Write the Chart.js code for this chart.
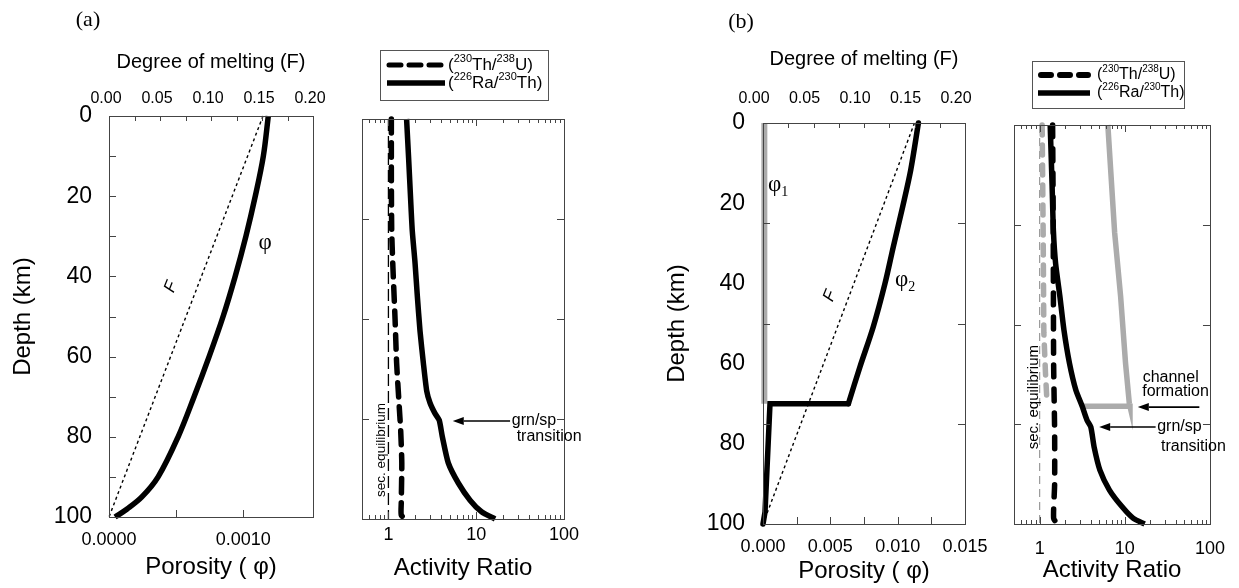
<!DOCTYPE html>
<html><head><meta charset="utf-8">
<script src="https://cdn.jsdelivr.net/npm/chart.js@4.4.1/dist/chart.umd.min.js"></script>
<style>
html,body{margin:0;padding:0;background:#fff;}
#wrap{position:relative;width:1239px;height:588px;overflow:hidden;background:#fff;}
#wrap canvas{position:absolute;left:0;top:0;width:1239px;height:588px;}
</style></head><body>
<div id="wrap">
<canvas id="cA1" width="1239" height="588"></canvas>
<canvas id="cA2" width="1239" height="588"></canvas>
<canvas id="cB1" width="1239" height="588"></canvas>
<canvas id="cB2" width="1239" height="588"></canvas>
</div>
<script>
// ---------------- DATA: panel (a) ----------------
const depthF_a = [0, 100];
const meltF_a = [0.151, 0];
const depthPhi_a = [0, 10, 20, 30, 40, 50, 60, 70, 80, 90, 95, 98, 100];
const phi_a = [0.001187, 0.00115, 0.00109, 0.00102, 0.00094, 0.00085, 0.000746, 0.000634, 0.000515, 0.000366, 0.000245, 0.000135, 0.000045];
const depthThU_a = [0, 15, 28, 36, 50, 61, 71, 78, 86, 96, 99, 100];
const thU_a = [1.08, 1.08, 1.09, 1.12, 1.19, 1.24, 1.32, 1.38, 1.42, 1.40, 1.40, 1.56];
const depthRaTh_a = [0, 10, 20, 28, 36, 44, 53, 61, 68, 71, 73.6, 75.3, 79.4, 86, 91, 95.3, 98.2, 100];
const raTh_a = [1.61, 1.70, 1.79, 1.87, 2.01, 2.13, 2.29, 2.50, 2.73, 2.98, 3.39, 3.79, 4.11, 4.81, 6.25, 8.5, 11.5, 16.4];
const depthSecEq = [0, 100];
const secEq = [1, 1];
// ---------------- DATA: panel (b) ----------------
const depthF_b = [0, 100];
const meltF_b = [0.150, 0];
const depthPhi1_b = [0, 70];
const phi1_b = [0.0001, 0.0001];
const depthPhi2curve_b = [0, 11.7, 20.9, 30.8, 40, 50.8, 60.8, 70];
const phi2curve_b = [0.01154, 0.01097, 0.01037, 0.00968, 0.00906, 0.00819, 0.0072, 0.00634];
const depthPhi2step_b = [70, 70, 97, 100];
const phi2step_b = [0.00634, 0.00052, 0.00015, 0];
const depthThU1_b = [0, 27, 52, 62, 68, 70];
const thU1_b = [1.07, 1.10, 1.12, 1.17, 1.21, 1.25];
const depthRaTh1_b = [0, 27, 43, 59.7, 69.8, 70.5, 70.5];
const raTh1_b = [6.32, 7.6, 8.93, 10.2, 11.3, 11.5, 3.16];
const depthThU2_b = [0, 20, 40, 60, 77, 90, 98.6, 100];
const thU2_b = [1.42, 1.44, 1.45, 1.46, 1.50, 1.50, 1.46, 1.62];
const depthRaTh2_b = [0, 15, 26.4, 34.7, 43, 51.4, 59.7, 66.4, 70.5, 74, 75.7, 80.7, 86.5, 91.5, 95.7, 98.6, 100];
const raTh2_b = [1.33, 1.40, 1.45, 1.54, 1.73, 1.93, 2.24, 2.66, 3.16, 3.6, 3.99, 4.36, 5.1, 6.6, 9.3, 12.6, 17.1];
// ---------------- TICK LABELS ----------------
const depthTicks = [0, 20, 40, 60, 80, 100];
const meltTicks = [0, 0.05, 0.10, 0.15, 0.20];
const porTicks_a = [0, 0.0010];
const porTicks_b = [0, 0.005, 0.010, 0.015];
const ratioTicks = [1, 10, 100];

// ---------------- helpers ----------------
const FONT = "'Liberation Sans', Arial, Helvetica, sans-serif";
const SERIF = "'Liberation Serif', 'Times New Roman', serif";
const FRAME = '#444';
const GRAY = '#ababab';
Chart.defaults.font.family = FONT;
Chart.defaults.color = '#000';

const pts = (xs, ys) => xs.map((x, i) => ({x: x, y: ys[i]}));
const setTicks = vals => s => { s.ticks = vals.map(v => ({value: v})); };
const logMinor = [];
[0.1, 1, 10].forEach(d => { for (let k = 1; k <= 9; k++) { const v = +(k * d).toFixed(3); if (v > 0.5 && v < 100) logMinor.push(v); } });
const fStep = []; for (let k = 1; k < 8; k++) fStep.push(+(k * 0.025).toFixed(3));

function drawRich(ctx, x, y, segs, o) {
  const size = o.size || 16, fam = o.family || FONT;
  const fontOf = s => (s.italic ? 'italic ' : '') + ((s.sup || s.sub) ? Math.round(size * 0.62) : size) + 'px ' + fam;
  let w = 0;
  segs.forEach(s => { ctx.font = fontOf(s); w += ctx.measureText(s.t).width; });
  ctx.save();
  ctx.translate(x, y);
  if (o.rotate) ctx.rotate(o.rotate * Math.PI / 180);
  let cx = o.align === 'center' ? -w / 2 : (o.align === 'right' ? -w : 0);
  ctx.textBaseline = 'middle'; ctx.textAlign = 'left'; ctx.fillStyle = o.color || '#000';
  segs.forEach(s => {
    ctx.font = fontOf(s);
    const dy = s.sup ? -size * 0.38 : (s.sub ? size * 0.32 : 0);
    ctx.fillText(s.t, cx, dy);
    cx += ctx.measureText(s.t).width;
  });
  ctx.restore();
}
function drawArrow(ctx, x1, y1, x2, y2) {
  const a = Math.atan2(y2 - y1, x2 - x1), L = 11, W = 4;
  const bx = x2 - L * Math.cos(a), by = y2 - L * Math.sin(a);
  ctx.strokeStyle = '#000'; ctx.fillStyle = '#000'; ctx.lineWidth = 1.6; ctx.setLineDash([]);
  ctx.beginPath(); ctx.moveTo(x1, y1); ctx.lineTo(bx, by); ctx.stroke();
  ctx.beginPath(); ctx.moveTo(x2, y2);
  ctx.lineTo(bx - W * Math.sin(a), by + W * Math.cos(a));
  ctx.lineTo(bx + W * Math.sin(a), by - W * Math.cos(a));
  ctx.closePath(); ctx.fill();
}
function makeExtras(cfg) {
  return {
    id: 'extras',
    afterDatasetsDraw(chart) {
      const ctx = chart.ctx, ca = chart.chartArea;
      const px = (sc, v) => chart.scales[sc].getPixelForValue(v);
      ctx.save();
      ctx.setLineDash([]);
      ctx.strokeStyle = FRAME; ctx.lineWidth = 1;
      (cfg.ticks || []).forEach(t => {
        const sc = chart.scales[t.scale];
        t.values.forEach(v => {
          const p = Math.round(sc.getPixelForValue(v)) + 0.5;
          const len = (t.major && t.major.indexOf(v) >= 0) ? t.majorLen : t.len;
          ctx.beginPath();
          if (t.side === 'left') { ctx.moveTo(ca.left, p); ctx.lineTo(ca.left + len, p); }
          else if (t.side === 'right') { ctx.moveTo(ca.right, p); ctx.lineTo(ca.right - len, p); }
          else if (t.side === 'top') { ctx.moveTo(p, ca.top); ctx.lineTo(p, ca.top + len); }
          else { ctx.moveTo(p, ca.bottom); ctx.lineTo(p, ca.bottom - len); }
          ctx.stroke();
        });
      });
      ctx.strokeRect(Math.round(ca.left) + 0.5, Math.round(ca.top) + 0.5, Math.round(ca.right - ca.left), Math.round(ca.bottom - ca.top));
      (cfg.arrows || []).forEach(a => {
        drawArrow(ctx, px(a.xs || 'x', a.x1), px(a.ys || 'y', a.y1), px(a.xs || 'x', a.x2), px(a.ys || 'y', a.y2));
      });
      (cfg.texts || []).forEach(t => {
        const X = t.px !== undefined ? t.px : px(t.xs || 'x', t.x);
        const Y = t.py !== undefined ? t.py : px(t.ys || 'y', t.y);
        drawRich(ctx, X, Y, t.segs, t);
      });
      if (cfg.legend) {
        const L = cfg.legend;
        ctx.strokeStyle = '#555'; ctx.lineWidth = 1; ctx.setLineDash([]);
        ctx.strokeRect(L.box[0] + 0.5, L.box[1] + 0.5, L.box[2], L.box[3]);
        L.items.forEach(it => {
          ctx.save();
          ctx.strokeStyle = '#000'; ctx.lineWidth = it.width; ctx.lineCap = it.dash ? 'round' : 'butt';
          ctx.setLineDash(it.dash || []);
          ctx.beginPath(); ctx.moveTo(it.x1, it.y); ctx.lineTo(it.x2, it.y); ctx.stroke();
          ctx.restore();
          drawRich(ctx, it.tx, it.y, it.segs, {size: L.size, align: 'left'});
        });
      }
      ctx.restore();
    }
  };
}
const thULabel = [{t: '('}, {t: '230', sup: true}, {t: 'Th/'}, {t: '238', sup: true}, {t: 'U)'}];
const raThLabel = [{t: '('}, {t: '226', sup: true}, {t: 'Ra/'}, {t: '230', sup: true}, {t: 'Th)'}];

const noGrid = {display: false, drawTicks: false};
const noBorder = {display: false};
const baseOpts = (padding, scales) => ({
  responsive: false, animation: false, devicePixelRatio: 1, events: [],
  layout: {padding: padding},
  plugins: {legend: {display: false}, tooltip: {enabled: false}},
  scales: scales
});
const line = (data, xAxisID, extra) => Object.assign({
  data: data, xAxisID: xAxisID, yAxisID: 'y', showLine: true, pointRadius: 0,
  borderColor: '#000', borderWidth: 5.5, fill: false, clip: 12, tension: 0
}, extra);

// ---------------- Chart (a) left: porosity / F ----------------
new Chart(document.getElementById('cA1'), {
  type: 'scatter',
  data: {datasets: [
    line(pts(phi_a, depthPhi_a), 'x', {label: 'phi', tension: 0.35, borderWidth: 5.5, order: 1}),
    line(pts(meltF_a, depthF_a), 'xF', {label: 'F', borderWidth: 1.4, borderDash: [3, 3], order: 2})
  ]},
  options: baseOpts({left: 0, top: 0, right: 926, bottom: 0}, {
    y: {type: 'linear', position: 'left', reverse: true, min: 0, max: 100, grid: noGrid, border: noBorder,
        ticks: {font: {size: 23}, padding: 17, autoSkip: false, callback: v => String(v)},
        afterBuildTicks: setTicks(depthTicks), afterFit: s => { s.width = 109; },
        title: {display: true, text: 'Depth (km)', font: {size: 24}, padding: {top: 9, bottom: 0}}},
    x: {type: 'linear', axis: 'x', position: 'bottom', min: 0, max: 0.00152, grid: noGrid, border: noBorder,
        ticks: {font: {size: 18}, padding: 12, autoSkip: false, maxRotation: 0, minRotation: 0, callback: v => Number(v).toFixed(4)},
        afterBuildTicks: setTicks(porTicks_a), afterFit: s => { s.height = 71; },
        title: {display: true, text: 'Porosity ( φ)', font: {size: 24}, padding: {top: 0, bottom: 6}}},
    xF: {type: 'linear', axis: 'x', position: 'top', min: 0, max: 0.2, grid: noGrid, border: noBorder,
        ticks: {font: {size: 16}, padding: 8, labelOffset: -3, autoSkip: false, maxRotation: 0, minRotation: 0, callback: v => Number(v).toFixed(2)},
        afterBuildTicks: setTicks(meltTicks), afterFit: s => { s.height = 116; },
        title: {display: true, text: 'Degree of melting (F)', font: {size: 20}, padding: {top: 50, bottom: 0}}}
  }),
  plugins: [makeExtras({
    ticks: [
      {scale: 'y', side: 'left', values: [10, 20, 30, 40, 50, 60, 70, 80, 90], len: 7},
      {scale: 'xF', side: 'top', values: fStep, len: 5},
      {scale: 'x', side: 'bottom', values: [0.0005, 0.001], len: 7}
    ],
    texts: [
      {px: 88, py: 20, segs: [{t: '(a)'}], size: 22, family: SERIF, align: 'center'},
      {x: 0.001164, y: 31.7, segs: [{t: 'φ'}], size: 23, family: SERIF, align: 'center'},
      {x: 0.0608, y: 42.6, xs: 'xF', segs: [{t: 'F', italic: true}], size: 17, align: 'center', rotate: -68}
    ]
  })]
});

// ---------------- Chart (a) right: activity ratios ----------------
new Chart(document.getElementById('cA2'), {
  type: 'scatter',
  data: {datasets: [
    line(pts(thU_a, depthThU_a), 'x', {label: '230Th/238U', tension: 0.2, borderDash: [14, 10], borderCapStyle: 'round', order: 1}),
    line(pts(raTh_a, depthRaTh_a), 'x', {label: '226Ra/230Th', tension: 0.2, order: 2}),
    line(pts(secEq, depthSecEq), 'x', {label: 'sec. equilibrium', borderWidth: 1.3, borderDash: [12, 5], order: 3})
  ]},
  options: baseOpts({left: 362, top: 119, right: 675, bottom: 0}, {
    y: {type: 'linear', display: false, reverse: true, min: 0, max: 100},
    x: {type: 'logarithmic', position: 'bottom', min: 0.5, max: 100, grid: noGrid, border: noBorder,
        ticks: {font: {size: 18}, padding: 5, autoSkip: false, maxRotation: 0, minRotation: 0, callback: v => String(v)},
        afterBuildTicks: setTicks(ratioTicks), afterFit: s => { s.height = 69; },
        title: {display: true, text: 'Activity Ratio', font: {size: 24}, padding: {top: 0, bottom: 5}}}
  }),
  plugins: [makeExtras({
    ticks: [
      {scale: 'y', side: 'left', values: [25, 50, 75], len: 7},
      {scale: 'y', side: 'right', values: [25, 50, 75], len: 7},
      {scale: 'x', side: 'top', values: logMinor, len: 4, major: [1, 10], majorLen: 7},
      {scale: 'x', side: 'bottom', values: logMinor, len: 4, major: [1, 10], majorLen: 7}
    ],
    arrows: [{x1: 24.3, y1: 75.5, x2: 5.4, y2: 75.5}],
    texts: [
      {x: 0.84, y: 82.75, segs: [{t: 'sec. equilibrium'}], size: 13.5, align: 'center', rotate: -90},
      {x: 25.4, y: 75.5, segs: [{t: 'grn/sp'}], size: 16, align: 'left'},
      {x: 28.9, y: 79.5, segs: [{t: 'transition'}], size: 16, align: 'left'}
    ],
    legend: {box: [380, 50, 168, 50], size: 17, items: [
      {y: 65, x1: 389, x2: 445, width: 5, dash: [12, 8], tx: 448, segs: thULabel},
      {y: 83, x1: 387, x2: 445, width: 5.5, tx: 448, segs: raThLabel}
    ]}
  })]
});

// ---------------- Chart (b) left: porosity / F ----------------
new Chart(document.getElementById('cB1'), {
  type: 'scatter',
  data: {datasets: [
    line(pts(phi2curve_b, depthPhi2curve_b), 'x', {label: 'phi2', tension: 0.3, borderWidth: 5.5, borderCapStyle: 'round', order: 1}),
    line(pts(phi2step_b, depthPhi2step_b), 'x', {label: 'phi2 below channel', borderWidth: 5.5, borderCapStyle: 'round', order: 1}),
    line(pts(meltF_b, depthF_b), 'xF', {label: 'F', borderWidth: 1.4, borderDash: [3, 3], order: 2}),
    line(pts(phi1_b, depthPhi1_b), 'x', {label: 'phi1', borderColor: GRAY, borderWidth: 6, order: 3})
  ]},
  options: baseOpts({left: 650, top: 0, right: 274, bottom: 0}, {
    y: {type: 'linear', position: 'left', reverse: true, min: 0, max: 100, grid: noGrid, border: noBorder,
        ticks: {font: {size: 23}, padding: 18, autoSkip: false, callback: v => String(v)},
        afterBuildTicks: setTicks(depthTicks), afterFit: s => { s.width = 113; },
        title: {display: true, text: 'Depth (km)', font: {size: 24}, padding: {top: 13, bottom: 0}}},
    x: {type: 'linear', axis: 'x', position: 'bottom', min: 0, max: 0.015, grid: noGrid, border: noBorder,
        ticks: {font: {size: 18}, padding: 12, autoSkip: false, maxRotation: 0, minRotation: 0, callback: v => Number(v).toFixed(3)},
        afterBuildTicks: setTicks(porTicks_b), afterFit: s => { s.height = 64; },
        title: {display: true, text: 'Porosity ( φ)', font: {size: 24}, padding: {top: 0, bottom: 2}}},
    xF: {type: 'linear', axis: 'x', position: 'top', min: 0, max: 0.2, grid: noGrid, border: noBorder,
        ticks: {font: {size: 16}, padding: 15, labelOffset: -9, autoSkip: false, maxRotation: 0, minRotation: 0, callback: v => Number(v).toFixed(2)},
        afterBuildTicks: setTicks(meltTicks), afterFit: s => { s.height = 123; },
        title: {display: true, text: 'Degree of melting (F)', font: {size: 20}, padding: {top: 47, bottom: 0}}}
  }),
  plugins: [makeExtras({
    ticks: [
      {scale: 'y', side: 'left', values: [25, 50, 75], len: 7},
      {scale: 'y', side: 'right', values: [25, 50, 75], len: 7},
      {scale: 'xF', side: 'top', values: fStep, len: 5},
      {scale: 'x', side: 'bottom', values: [0.0025, 0.005, 0.0075, 0.01, 0.0125], len: 7}
    ],
    texts: [
      {px: 741, py: 22, segs: [{t: '(b)'}], size: 22, family: SERIF, align: 'center'},
      {x: 0.00037, y: 15.5, segs: [{t: 'φ'}, {t: '1', sub: true}], size: 23, family: SERIF, align: 'left'},
      {x: 0.0098, y: 39.2, segs: [{t: 'φ'}, {t: '2', sub: true}], size: 23, family: SERIF, align: 'left'},
      {x: 0.0663, y: 43.1, xs: 'xF', segs: [{t: 'F', italic: true}], size: 17, align: 'center', rotate: -68}
    ]
  })]
});

// ---------------- Chart (b) right: activity ratios ----------------
new Chart(document.getElementById('cB2'), {
  type: 'scatter',
  data: {datasets: [
    line(pts(thU2_b, depthThU2_b), 'x', {label: '230Th/238U', tension: 0.2, borderDash: [12, 12], borderCapStyle: 'round', order: 1}),
    line(pts(raTh2_b, depthRaTh2_b), 'x', {label: '226Ra/230Th', tension: 0.2, order: 2}),
    line(pts(raTh1_b, depthRaTh1_b), 'x', {label: '226Ra/230Th channel', borderColor: GRAY, borderWidth: 5.5, order: 3}),
    line(pts(thU1_b, depthThU1_b), 'x', {label: '230Th/238U channel', borderColor: GRAY, borderWidth: 5.5, borderDash: [10, 10], borderCapStyle: 'round', order: 4}),
    line(pts(secEq, depthSecEq), 'x', {label: 'sec. equilibrium', borderColor: '#999', borderWidth: 1.2, borderDash: [8, 5], order: 5})
  ]},
  options: baseOpts({left: 1014, top: 125, right: 21, bottom: 0}, {
    y: {type: 'linear', display: false, reverse: true, min: 0, max: 100},
    x: {type: 'logarithmic', position: 'bottom', min: 0.5, max: 100, grid: noGrid, border: noBorder,
        ticks: {font: {size: 18}, padding: 14, autoSkip: false, maxRotation: 0, minRotation: 0, callback: v => String(v)},
        afterBuildTicks: setTicks(ratioTicks), afterFit: s => { s.height = 64; },
        title: {display: true, text: 'Activity Ratio', font: {size: 24}, padding: {top: 0, bottom: 3}}}
  }),
  plugins: [makeExtras({
    ticks: [
      {scale: 'y', side: 'left', values: [25, 50, 75], len: 7},
      {scale: 'y', side: 'right', values: [25, 50, 75], len: 7},
      {scale: 'x', side: 'top', values: logMinor, len: 4, major: [1, 10], majorLen: 7},
      {scale: 'x', side: 'bottom', values: logMinor, len: 4, major: [1, 10], majorLen: 7}
    ],
    arrows: [
      {x1: 75, y1: 70.7, x2: 14.2, y2: 70.7},
      {x1: 23, y1: 75.7, x2: 5.0, y2: 75.7}
    ],
    texts: [
      {x: 0.86, y: 68.2, segs: [{t: 'sec. equilibrium'}], size: 15, align: 'center', rotate: -90},
      {x: 16.2, y: 63.2, segs: [{t: 'channel'}], size: 16, align: 'left'},
      {x: 16.0, y: 66.9, segs: [{t: 'formation'}], size: 16, align: 'left'},
      {x: 24, y: 75.7, segs: [{t: 'grn/sp'}], size: 16, align: 'left'},
      {x: 26.6, y: 80.5, segs: [{t: 'transition'}], size: 16, align: 'left'}
    ],
    legend: {box: [1032, 61, 152, 47], size: 16, items: [
      {y: 75, x1: 1041, x2: 1088, width: 6, dash: [10, 9], tx: 1097, segs: thULabel},
      {y: 93, x1: 1038, x2: 1090, width: 5.5, tx: 1097, segs: raThLabel}
    ]}
  })]
});
</script>
</body></html>
